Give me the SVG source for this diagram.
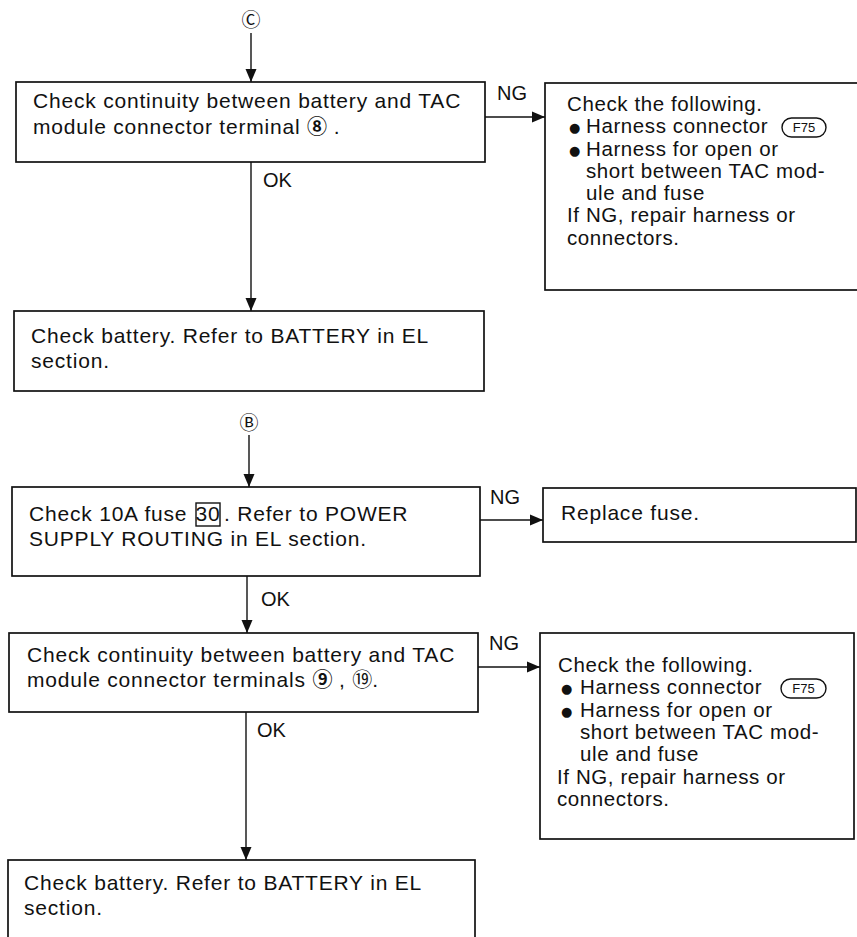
<svg xmlns="http://www.w3.org/2000/svg" width="857" height="937" viewBox="0 0 857 937">
<style>
.box{fill:#fff;stroke:#111;stroke-width:1.7}
.t{font-family:"Liberation Sans",Arial,sans-serif;font-size:21px;fill:#111;letter-spacing:0.8px}
.r{font-family:"Liberation Sans",Arial,sans-serif;font-size:20.5px;fill:#111;letter-spacing:0.6px}
.lbl{font-family:"Liberation Sans",Arial,sans-serif;font-size:20px;fill:#111}
.sym{font-family:"Noto Sans CJK JP","DejaVu Sans",sans-serif;fill:#111;letter-spacing:0}
.bul{font-family:"DejaVu Sans",sans-serif;font-size:13px;fill:#111}
.c{stroke:#111;stroke-width:1.4;fill:none}
.tag{fill:none;stroke:#111;stroke-width:1.4}
.tagt{font-family:"Liberation Sans",Arial,sans-serif;font-size:13px;fill:#111;text-anchor:middle}
</style>
<defs>
<marker id="ah" viewBox="0 0 13 12" refX="13" refY="6" markerWidth="13" markerHeight="12" markerUnits="userSpaceOnUse" orient="auto">
<path d="M0,0.5 L13,6 L0,11.5 z" fill="#111"/>
</marker>
</defs>
<rect width="857" height="937" fill="#fff"/>

<g id="connectors">
<line class="c" x1="251" y1="33" x2="251" y2="82" marker-end="url(#ah)"/>
<line class="c" x1="251" y1="162" x2="251" y2="311" marker-end="url(#ah)"/>
<line class="c" x1="485" y1="117" x2="545" y2="117" marker-end="url(#ah)"/>
<line class="c" x1="249" y1="435" x2="249" y2="487" marker-end="url(#ah)"/>
<line class="c" x1="480" y1="520" x2="543" y2="520" marker-end="url(#ah)"/>
<line class="c" x1="247" y1="576" x2="247" y2="633" marker-end="url(#ah)"/>
<line class="c" x1="478" y1="667" x2="540" y2="667" marker-end="url(#ah)"/>
<line class="c" x1="246" y1="712" x2="246" y2="860" marker-end="url(#ah)"/>
<text class="lbl" x="497" y="100">NG</text>
<text class="lbl" x="263" y="187">OK</text>
<text class="lbl" x="490" y="504">NG</text>
<text class="lbl" x="261" y="606">OK</text>
<text class="lbl" x="489" y="650">NG</text>
<text class="lbl" x="257" y="737">OK</text>
</g>

<g id="entryC">
<text class="sym" x="251" y="27" font-size="19" text-anchor="middle">Ⓒ</text>
</g>

<g id="box1">
<rect class="box" x="16" y="82" width="469" height="80"/>
<text class="t" x="33" y="108">Check continuity between battery and TAC</text>
<text class="t" x="33" y="134">module connector terminal <tspan class="sym" font-size="20" font-weight="bold">⑧</tspan> .</text>
</g>

<g id="ng1">
<rect class="box" x="545" y="83" width="330" height="207"/>
<text class="r" x="567" y="111">Check the following.</text>
<text class="bul" x="569" y="132">●</text>
<text class="r" x="586" y="133">Harness connector</text>
<rect class="tag" x="782" y="118" width="44" height="19" rx="9.5"/>
<text class="tagt" x="804" y="132">F75</text>
<text class="bul" x="569" y="155">●</text>
<text class="r" x="586" y="156">Harness for open or</text>
<text class="r" x="586" y="178">short between TAC mod-</text>
<text class="r" x="586" y="200">ule and fuse</text>
<text class="r" x="567" y="222">If NG, repair harness or</text>
<text class="r" x="567" y="245">connectors.</text>
</g>

<g id="box2">
<rect class="box" x="14" y="311" width="470" height="80"/>
<text class="t" x="31" y="343">Check battery. Refer to BATTERY in EL</text>
<text class="t" x="31" y="368">section.</text>
</g>

<g id="entryB">
<text class="sym" x="249" y="430" font-size="19" text-anchor="middle">Ⓑ</text>
</g>

<g id="box3">
<rect class="box" x="12" y="487" width="468" height="89"/>
<text class="t" x="29" y="521">Check 10A fuse</text>
<rect class="tag" x="196" y="503" width="24" height="23"/>
<text class="t" x="208" y="521" text-anchor="middle" letter-spacing="0">30</text>
<text class="t" x="224" y="521"> . Refer to POWER</text>
<text class="t" x="29" y="546">SUPPLY ROUTING in EL section.</text>
</g>

<g id="ng2">
<rect class="box" x="543" y="488" width="313" height="54"/>
<text class="t" x="561" y="520">Replace fuse.</text>
</g>

<g id="box4">
<rect class="box" x="9" y="633" width="469" height="79"/>
<text class="t" x="27" y="662">Check continuity between battery and TAC</text>
<text class="t" x="27" y="687">module connector terminals <tspan class="sym" font-size="20" font-weight="bold">⑨</tspan> , <tspan class="sym" font-size="20">⑲</tspan>.</text>
</g>

<g id="ng3">
<rect class="box" x="540" y="633" width="314" height="206"/>
<text class="r" x="558" y="672">Check the following.</text>
<text class="bul" x="561" y="693">●</text>
<text class="r" x="580" y="694">Harness connector</text>
<rect class="tag" x="781" y="679" width="45" height="19" rx="9.5"/>
<text class="tagt" x="803.5" y="693">F75</text>
<text class="bul" x="561" y="716">●</text>
<text class="r" x="580" y="717">Harness for open or</text>
<text class="r" x="580" y="739">short between TAC mod-</text>
<text class="r" x="580" y="761">ule and fuse</text>
<text class="r" x="557" y="784">If NG, repair harness or</text>
<text class="r" x="557" y="806">connectors.</text>
</g>

<g id="box5">
<rect class="box" x="8" y="860" width="467" height="100"/>
<text class="t" x="24" y="890">Check battery. Refer to BATTERY in EL</text>
<text class="t" x="24" y="915">section.</text>
</g>
</svg>
